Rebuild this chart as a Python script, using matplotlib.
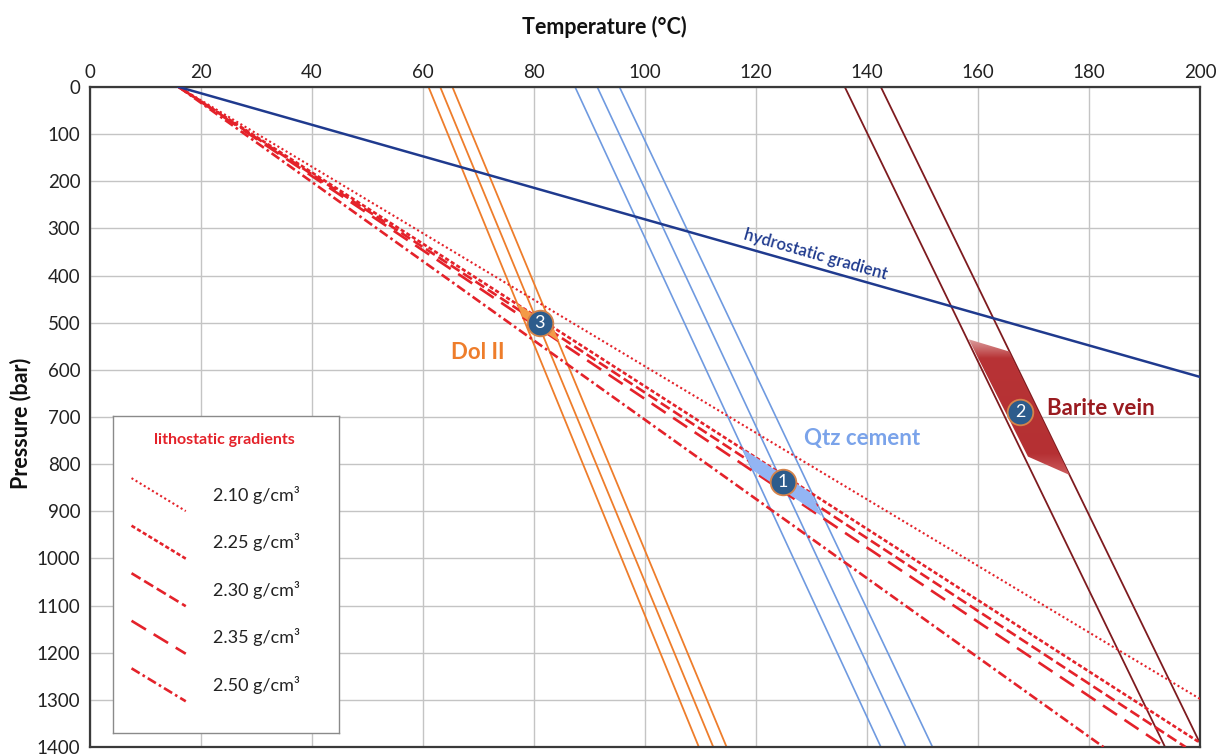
import numpy as np
import matplotlib.pyplot as plt
from matplotlib.patches import Polygon

plt.rcParams["font.family"] = ["Lato", "DejaVu Sans"]

# ==========================================
# DATA
# ==========================================

# lithostatic gradients, start / end points (T in degC, P in bar)
litho_density = ["2.10", "2.25", "2.30", "2.35", "2.50"]
litho_T = [[16, 200], [16, 200], [16, 197.4], [16, 193.7], [16, 182.6]]
litho_P = [[0, 1298], [0, 1391], [0, 1400], [0, 1400], [0, 1400]]

# hydrostatic gradient
hydro_T = [16, 200]
hydro_P = [0, 615]

# isochores (T at P = 0 and at the base)
iso_P = [0, 1400]
dol_T_top = [61.0, 63.1, 65.3]
dol_T_base = [109.7, 112.3, 114.7]
qtz_T_top = [87.4, 91.4, 95.4]
qtz_T_base = [142.5, 147.0, 151.8]
bar_T_top = [136.0, 142.5]
bar_T_base = [193.7, 200.0]
bar_P_base = [1400, 1392]

# trapping fields
dol_zone_T = [76.8, 78.0, 84.6, 83.4]
dol_zone_P = [458, 488, 541, 510]
qtz_zone_T = [117.4, 119.4, 131.8, 130.0]
qtz_zone_P = [766, 813, 910, 862]
bar_zone_T = [158.3, 165.6, 176.5, 169.0]
bar_zone_P = [535, 561, 823, 784]

# numbered samples
sample_id = ["3", "1", "2"]
sample_T = [81.0, 124.8, 167.6]
sample_P = [501, 837, 690]

# ==========================================
# STYLES
# ==========================================

red = "#e4222a"
orange = "#ee7d2b"
light_blue = "#6f9ae0"
dark_red = "#7e1b1f"
navy = "#1f3a8e"

litho_styles = [
    (0, (1, 1.3)),
    (0, (1.6, 0.9)),
    (0, (4, 1.6)),
    (0, (6.4, 3.4)),
    (0, (3.6, 1.3, 1, 1.3)),
]
litho_widths = [1.5, 1.9, 1.9, 1.9, 1.9]

# ==========================================
# FIGURE
# ==========================================

fig = plt.figure(figsize=(12.28, 7.56), dpi=100)

ax = fig.add_axes([90 / 1228, 9 / 756, 1110 / 1228, 660 / 756])

ax.set_xlim(0, 200)
ax.set_ylim(1400, 0)

ax.set_xticks(np.arange(0, 201, 20))
ax.set_yticks(np.arange(0, 1401, 100))

ax.xaxis.tick_top()
ax.xaxis.set_label_position("top")

ax.tick_params(length=0, labelsize=13.5, colors="#222222")
ax.tick_params(axis="x", pad=4)
ax.tick_params(axis="y", pad=7)

ax.grid(True, color="#c4c4c4", linewidth=1)
ax.set_axisbelow(True)

for side in ax.spines:
    ax.spines[side].set_color("#3a3a3a")
    ax.spines[side].set_linewidth(1.6)

ax.set_xlabel("Temperature (°C)", fontsize=15.5, fontweight="bold", color="#111111")
ax.xaxis.set_label_coords(0.463, 1.081)

ax.set_ylabel("Pressure (bar)", fontsize=15.5, fontweight="bold", color="#111111")
ax.yaxis.set_label_coords(-0.053, 0.49)

# ==========================================
# ISOCHORES
# ==========================================

for t0, t1 in zip(dol_T_top, dol_T_base):
    ax.plot([t0, t1], iso_P, color=orange, linewidth=1.3, zorder=2)

for t0, t1 in zip(qtz_T_top, qtz_T_base):
    ax.plot([t0, t1], iso_P, color=light_blue, linewidth=1.2, zorder=2)

for t0, t1, p1 in zip(bar_T_top, bar_T_base, bar_P_base):
    ax.plot([t0, t1], [0, p1], color=dark_red, linewidth=1.3, zorder=2)

# ==========================================
# GRADIENTS
# ==========================================

for i in range(len(litho_density)):
    ax.plot(
        litho_T[i],
        litho_P[i],
        color=red,
        linestyle=litho_styles[i],
        linewidth=litho_widths[i],
        zorder=3,
    )

ax.plot(hydro_T, hydro_P, color=navy, linewidth=1.8, zorder=3)

p0 = ax.transData.transform((hydro_T[0], hydro_P[0]))
p1 = ax.transData.transform((hydro_T[1], hydro_P[1]))
angle = np.degrees(np.arctan2(p1[1] - p0[1], p1[0] - p0[0]))

ax.text(
    130.7, 356, "hydrostatic gradient",
    rotation=angle, rotation_mode="anchor",
    ha="center", va="center",
    fontsize=12, fontweight="semibold", color=navy, zorder=4,
)

# ==========================================
# TRAPPING FIELDS
# ==========================================

ax.add_patch(Polygon(np.column_stack([dol_zone_T, dol_zone_P]),
                     closed=True, facecolor="#f39a48", edgecolor="none", zorder=5))

ax.add_patch(Polygon(np.column_stack([qtz_zone_T, qtz_zone_P]),
                     closed=True, facecolor="#93b5f4", edgecolor="none", zorder=5))

# barite field with a soft vertical shading
bar_patch = Polygon(np.column_stack([bar_zone_T, bar_zone_P]),
                    closed=True, facecolor="none", edgecolor="none", zorder=5)
ax.add_patch(bar_patch)

p_lo, p_hi = min(bar_zone_P), max(bar_zone_P)
rows = np.linspace(p_lo, p_hi, 200)
stops_P = [p_lo, p_lo + 40, p_hi - 45, p_hi]
shade = np.zeros((len(rows), 1, 3))
for k, (c_top, c_mid, c_low, c_bot) in enumerate(zip(
        (0.86, 0.62, 0.62), (0.72, 0.20, 0.21), (0.71, 0.19, 0.20), (0.80, 0.36, 0.37))):
    shade[:, 0, k] = np.interp(rows, stops_P, [c_top, c_mid, c_low, c_bot])

img = ax.imshow(shade, extent=(min(bar_zone_T), max(bar_zone_T), p_hi, p_lo),
                origin="upper", aspect="auto", zorder=5)
img.set_clip_path(bar_patch)

ax.set_xlim(0, 200)
ax.set_ylim(1400, 0)

# ==========================================
# SAMPLE MARKERS + LABELS
# ==========================================

ax.scatter(sample_T, sample_P, s=340, color="#2d5c8c",
           edgecolors="#d4834a", linewidths=1.3, zorder=6)

for sid, t, p in zip(sample_id, sample_T, sample_P):
    ax.text(t, p, sid, ha="center", va="center",
            fontsize=13, color="white", zorder=7)

ax.text(69.8, 564, "Dol II", ha="center", va="center",
        fontsize=16, fontweight="bold", color=orange, zorder=6)

ax.text(139.1, 745, "Qtz cement", ha="center", va="center",
        fontsize=16, fontweight="bold", color="#7aa3ea", zorder=6)

ax.text(182.1, 681, "Barite vein", ha="center", va="center",
        fontsize=16, fontweight="bold", color="#9a1b20", zorder=6)

# ==========================================
# LEGEND BOX
# ==========================================

leg = fig.add_axes([113 / 1228, 23 / 756, 226 / 1228, 317 / 756], zorder=10)

leg.set_xlim(0, 1)
leg.set_ylim(0, 1)
leg.set_xticks([])
leg.set_yticks([])
leg.set_facecolor("white")

for side in leg.spines:
    leg.spines[side].set_color("#8a8a8a")
    leg.spines[side].set_linewidth(1)

leg.text(0.495, 0.923, "lithostatic gradients", ha="center", va="center",
         fontsize=11.5, fontweight="bold", color=red)

for i in range(len(litho_density)):
    y = 0.752 - i * 0.150
    leg.plot([0.082, 0.322], [y + 0.052, y - 0.052], color=red,
             linestyle=litho_styles[i], linewidth=litho_widths[i])
    leg.text(0.443, y, litho_density[i] + " g/cm³", ha="left", va="center",
             fontsize=13, color="#222222")

fig.savefig("out.png", dpi=100)
